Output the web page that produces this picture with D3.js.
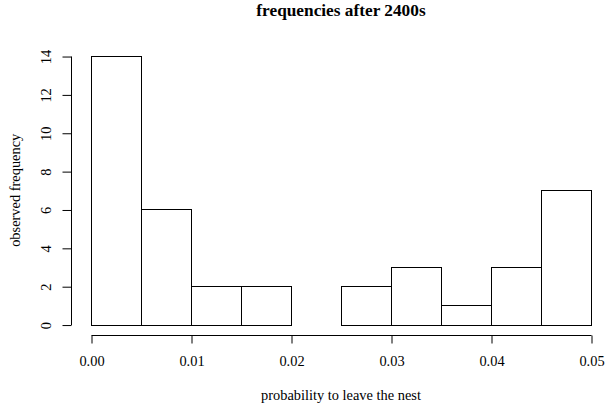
<!DOCTYPE html>
<html>
<head>
  <meta charset="utf-8">
  <script src="https://d3js.org/d3.v7.min.js"></script>
  <style>
    body { margin: 0; background: #fff; }
    text { font-family: "Liberation Serif", "Times New Roman", serif; fill: #000; }
  </style>
</head>
<body>
  <div id="my_dataviz"></div>
  <script>
    // histogram bins (left edges) and counts
    var binStarts = [0, 0.005, 0.01, 0.015, 0.02, 0.025, 0.03, 0.035, 0.04, 0.045];
    var binWidth = 0.005;
    var counts = [14, 6, 2, 2, 0, 2, 3, 1, 3, 7];
    var xTicks = [0, 0.01, 0.02, 0.03, 0.04, 0.05];
    var yTicks = [0, 2, 4, 6, 8, 10, 12, 14];

    var width = 606, height = 408;

    var svg = d3.select("#my_dataviz")
      .append("svg")
      .attr("width", width)
      .attr("height", height);

    // R style: axis ranges padded by 4%
    var x = d3.scaleLinear()
      .domain([-0.002, 0.052])
      .range([71, 611]);
    var y = d3.scaleLinear()
      .domain([-0.56, 14.56])
      .range([335.3, 45.3]);

    // Bars
    svg.append("g")
      .selectAll("rect")
      .data(binStarts.map(function(d, i) { return { x0: d, x1: d + binWidth, n: counts[i] }; }))
      .enter()
      .append("rect")
      .attr("x", function(d) { return Math.round(x(d.x0)) + 0.5; })
      .attr("y", function(d) { return Math.round(y(d.n)) + 0.5; })
      .attr("width", function(d) { return Math.round(x(d.x1)) - Math.round(x(d.x0)); })
      .attr("height", function(d) { return Math.round(y(0)) - Math.round(y(d.n)); })
      .style("fill", "none")
      .style("stroke", "#000")
      .style("stroke-width", 1);

    // X axis
    var xAxis = svg.append("g")
      .attr("transform", "translate(0.5,335.5)")
      .call(d3.axisBottom(x).tickValues(xTicks).tickSize(8)
        .tickFormat(d3.format(".2f")));
    xAxis.select(".domain").remove();
    xAxis.append("line")
      .attr("x1", x(xTicks[0])).attr("x2", x(xTicks[xTicks.length - 1]))
      .attr("stroke", "#000");
    xAxis.selectAll("text")
      .attr("y", 30.5).attr("dy", null)
      .style("font-size", "14.4px").style("font-family", null);

    // Y axis
    var yAxis = svg.append("g")
      .attr("transform", "translate(71.5,0.5)")
      .call(d3.axisLeft(y).tickValues(yTicks).tickSize(9).tickFormat(d3.format("d")));
    yAxis.select(".domain").remove();
    yAxis.append("line")
      .attr("y1", y(yTicks[0])).attr("y2", y(yTicks[yTicks.length - 1]))
      .attr("stroke", "#000");
    yAxis.selectAll("text")
      .attr("x", null).attr("dy", null)
      .attr("transform", "translate(-21,0) rotate(-90)")
      .style("text-anchor", "middle")
      .style("font-size", "14.4px")
      .style("font-family", null);

    // Title
    svg.append("text")
      .attr("x", (x.range()[0] + x.range()[1]) / 2)
      .attr("y", 16)
      .style("text-anchor", "middle")
      .style("font-size", "17.3px")
      .style("font-weight", "bold")
      .text("frequencies after 2400s");

    // X label
    svg.append("text")
      .attr("x", (x.range()[0] + x.range()[1]) / 2)
      .attr("y", 400)
      .style("text-anchor", "middle")
      .style("font-size", "14.4px")
      .text("probability to leave the nest");

    // Y label
    svg.append("text")
      .attr("transform", "translate(20," + ((y.range()[0] + y.range()[1]) / 2) + ") rotate(-90)")
      .style("text-anchor", "middle")
      .style("font-size", "14.4px")
      .text("observed frequency");
  </script>
</body>
</html>
